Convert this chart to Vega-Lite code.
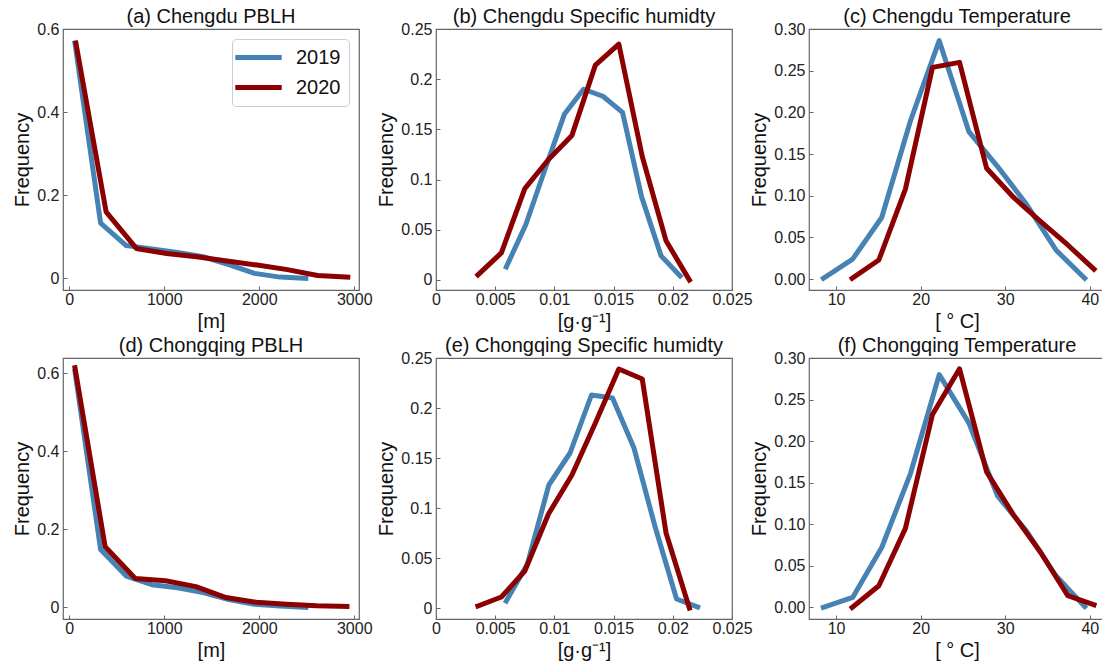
{
  "$schema": "https://vega.github.io/schema/vega-lite/v6.json",
  "background": "white",
  "padding": {"left": 12, "top": 6, "right": 0, "bottom": 0},
  "datasets": {
    "a": [
      {"year": "2019", "v": 60, "freq": 0.566}, {"year": "2019", "v": 330, "freq": 0.133}, {"year": "2019", "v": 600, "freq": 0.079}, {"year": "2019", "v": 870, "freq": 0.071}, {"year": "2019", "v": 1140, "freq": 0.062}, {"year": "2019", "v": 1410, "freq": 0.052}, {"year": "2019", "v": 1680, "freq": 0.033}, {"year": "2019", "v": 1950, "freq": 0.012}, {"year": "2019", "v": 2220, "freq": 0.003}, {"year": "2019", "v": 2490, "freq": 0.0},
      {"year": "2020", "v": 70, "freq": 0.566}, {"year": "2020", "v": 388, "freq": 0.16}, {"year": "2020", "v": 706, "freq": 0.072}, {"year": "2020", "v": 1024, "freq": 0.06}, {"year": "2020", "v": 1342, "freq": 0.052}, {"year": "2020", "v": 1660, "freq": 0.042}, {"year": "2020", "v": 1978, "freq": 0.032}, {"year": "2020", "v": 2296, "freq": 0.021}, {"year": "2020", "v": 2614, "freq": 0.007}, {"year": "2020", "v": 2932, "freq": 0.003}
    ],
    "b": [
      {"year": "2019", "v": 0.00594, "freq": 0.013}, {"year": "2019", "v": 0.00758, "freq": 0.055}, {"year": "2019", "v": 0.0092, "freq": 0.11}, {"year": "2019", "v": 0.01084, "freq": 0.165}, {"year": "2019", "v": 0.01246, "freq": 0.19}, {"year": "2019", "v": 0.0141, "freq": 0.183}, {"year": "2019", "v": 0.01575, "freq": 0.167}, {"year": "2019", "v": 0.01736, "freq": 0.083}, {"year": "2019", "v": 0.01901, "freq": 0.024}, {"year": "2019", "v": 0.02062, "freq": 0.004},
      {"year": "2020", "v": 0.00354, "freq": 0.005}, {"year": "2020", "v": 0.00552, "freq": 0.027}, {"year": "2020", "v": 0.0075, "freq": 0.091}, {"year": "2020", "v": 0.0095, "freq": 0.12}, {"year": "2020", "v": 0.01148, "freq": 0.144}, {"year": "2020", "v": 0.01346, "freq": 0.214}, {"year": "2020", "v": 0.01544, "freq": 0.235}, {"year": "2020", "v": 0.01742, "freq": 0.123}, {"year": "2020", "v": 0.01943, "freq": 0.039}, {"year": "2020", "v": 0.0214, "freq": 0.0}
    ],
    "c": [
      {"year": "2019", "v": 8.5, "freq": 0.001}, {"year": "2019", "v": 11.96, "freq": 0.024}, {"year": "2019", "v": 15.4, "freq": 0.074}, {"year": "2019", "v": 18.8, "freq": 0.19}, {"year": "2019", "v": 22.2, "freq": 0.286}, {"year": "2019", "v": 25.7, "freq": 0.177}, {"year": "2019", "v": 29.1, "freq": 0.135}, {"year": "2019", "v": 32.5, "freq": 0.09}, {"year": "2019", "v": 36.0, "freq": 0.035}, {"year": "2019", "v": 39.4, "freq": 0.001},
      {"year": "2020", "v": 11.9, "freq": 0.001}, {"year": "2020", "v": 15.06, "freq": 0.023}, {"year": "2020", "v": 18.2, "freq": 0.108}, {"year": "2020", "v": 21.4, "freq": 0.254}, {"year": "2020", "v": 24.6, "freq": 0.26}, {"year": "2020", "v": 27.8, "freq": 0.133}, {"year": "2020", "v": 31.0, "freq": 0.098}, {"year": "2020", "v": 34.2, "freq": 0.069}, {"year": "2020", "v": 37.4, "freq": 0.041}, {"year": "2020", "v": 40.5, "freq": 0.012}
    ],
    "d": [
      {"year": "2019", "v": 60, "freq": 0.605}, {"year": "2019", "v": 330, "freq": 0.148}, {"year": "2019", "v": 600, "freq": 0.08}, {"year": "2019", "v": 870, "freq": 0.058}, {"year": "2019", "v": 1140, "freq": 0.05}, {"year": "2019", "v": 1410, "freq": 0.038}, {"year": "2019", "v": 1680, "freq": 0.02}, {"year": "2019", "v": 1950, "freq": 0.008}, {"year": "2019", "v": 2220, "freq": 0.003}, {"year": "2019", "v": 2490, "freq": 0.0},
      {"year": "2020", "v": 60, "freq": 0.614}, {"year": "2020", "v": 378, "freq": 0.155}, {"year": "2020", "v": 695, "freq": 0.074}, {"year": "2020", "v": 1014, "freq": 0.068}, {"year": "2020", "v": 1333, "freq": 0.053}, {"year": "2020", "v": 1649, "freq": 0.025}, {"year": "2020", "v": 1968, "freq": 0.013}, {"year": "2020", "v": 2288, "freq": 0.008}, {"year": "2020", "v": 2604, "freq": 0.004}, {"year": "2020", "v": 2923, "freq": 0.002}
    ],
    "e": [
      {"year": "2019", "v": 0.00594, "freq": 0.007}, {"year": "2019", "v": 0.00772, "freq": 0.044}, {"year": "2019", "v": 0.00953, "freq": 0.123}, {"year": "2019", "v": 0.01132, "freq": 0.155}, {"year": "2019", "v": 0.01313, "freq": 0.213}, {"year": "2019", "v": 0.01491, "freq": 0.21}, {"year": "2019", "v": 0.01672, "freq": 0.16}, {"year": "2019", "v": 0.01851, "freq": 0.081}, {"year": "2019", "v": 0.02032, "freq": 0.009}, {"year": "2019", "v": 0.0221, "freq": 0.001},
      {"year": "2020", "v": 0.00354, "freq": 0.002}, {"year": "2020", "v": 0.00552, "freq": 0.011}, {"year": "2020", "v": 0.0075, "freq": 0.037}, {"year": "2020", "v": 0.0095, "freq": 0.094}, {"year": "2020", "v": 0.01148, "freq": 0.133}, {"year": "2020", "v": 0.01346, "freq": 0.185}, {"year": "2020", "v": 0.01544, "freq": 0.239}, {"year": "2020", "v": 0.01742, "freq": 0.229}, {"year": "2020", "v": 0.01943, "freq": 0.075}, {"year": "2020", "v": 0.0214, "freq": 0.0}
    ],
    "f": [
      {"year": "2019", "v": 8.5, "freq": 0.0}, {"year": "2019", "v": 11.96, "freq": 0.012}, {"year": "2019", "v": 15.4, "freq": 0.072}, {"year": "2019", "v": 18.8, "freq": 0.161}, {"year": "2019", "v": 22.2, "freq": 0.28}, {"year": "2019", "v": 25.7, "freq": 0.222}, {"year": "2019", "v": 29.1, "freq": 0.134}, {"year": "2019", "v": 32.5, "freq": 0.092}, {"year": "2019", "v": 36.0, "freq": 0.038}, {"year": "2019", "v": 39.4, "freq": 0.001},
      {"year": "2020", "v": 11.9, "freq": 0.0}, {"year": "2020", "v": 15.06, "freq": 0.026}, {"year": "2020", "v": 18.2, "freq": 0.095}, {"year": "2020", "v": 21.4, "freq": 0.232}, {"year": "2020", "v": 24.6, "freq": 0.287}, {"year": "2020", "v": 27.8, "freq": 0.163}, {"year": "2020", "v": 31.0, "freq": 0.111}, {"year": "2020", "v": 34.2, "freq": 0.066}, {"year": "2020", "v": 37.4, "freq": 0.014}, {"year": "2020", "v": 40.5, "freq": 0.003}
    ]
  },
  "columns": 3,
  "spacing": {"row": 68, "column": 77},
  "bounds": "flush",
  "resolve": {"scale": {"x": "independent", "y": "independent"}, "legend": {"color": "independent"}},
  "concat": [
    {
      "width": 296, "height": 261,
      "title": "(a) Chengdu PBLH",
      "data": {"name": "a"},
      "mark": {"type": "line", "strokeWidth": 5, "strokeJoin": "round", "strokeCap": "square"},
      "encoding": {
        "x": {"field": "v", "type": "quantitative", "scale": {"domain": [-66, 3050], "nice": false, "zero": false}, "axis": {"title": "[m]", "values": [0, 1000, 2000, 3000], "format": "d"}},
        "y": {"field": "freq", "type": "quantitative", "scale": {"domain": [-0.028, 0.6], "nice": false, "zero": false}, "axis": {"title": "Frequency", "values": [0, 0.2, 0.4, 0.6], "format": "~g"}},
        "color": {"field": "year", "type": "nominal", "scale": {"domain": ["2019", "2020"], "range": ["#4682B4", "#8B0000"]},
          "legend": {"orient": "top-right", "offset": 10, "title": null, "symbolType": "M-2.9,0H2.9", "symbolStrokeWidth": 5, "symbolSize": 256, "symbolOffset": 8, "labelFontSize": 20, "labelColor": "#111", "strokeColor": "#cccccc", "fillColor": "white", "cornerRadius": 4, "padding": 8, "rowPadding": 9, "labelOffset": 27}}
      }
    },
    {
      "width": 296, "height": 261,
      "title": "(b) Chengdu Specific humidty",
      "data": {"name": "b"},
      "mark": {"type": "line", "strokeWidth": 5, "strokeJoin": "round", "strokeCap": "square"},
      "encoding": {
        "x": {"field": "v", "type": "quantitative", "scale": {"domain": [0, 0.025], "nice": false, "zero": false}, "axis": {"title": "[g·g⁻¹]", "values": [0, 0.005, 0.01, 0.015, 0.02, 0.025], "format": "~g"}},
        "y": {"field": "freq", "type": "quantitative", "scale": {"domain": [-0.01, 0.25], "nice": false, "zero": false}, "axis": {"title": "Frequency", "values": [0, 0.05, 0.1, 0.15, 0.2, 0.25], "format": "~g"}},
        "color": {"field": "year", "type": "nominal", "scale": {"domain": ["2019", "2020"], "range": ["#4682B4", "#8B0000"]}, "legend": null}
      }
    },
    {
      "width": 296, "height": 261,
      "title": "(c) Chengdu Temperature",
      "data": {"name": "c"},
      "mark": {"type": "line", "strokeWidth": 5, "strokeJoin": "round", "strokeCap": "square"},
      "encoding": {
        "x": {"field": "v", "type": "quantitative", "scale": {"domain": [6.8, 41.8], "nice": false, "zero": false}, "axis": {"title": "[ ° C]", "values": [10, 20, 30, 40], "format": "d"}},
        "y": {"field": "freq", "type": "quantitative", "scale": {"domain": [-0.013, 0.3], "nice": false, "zero": false}, "axis": {"title": "Frequency", "values": [0, 0.05, 0.1, 0.15, 0.2, 0.25, 0.3], "format": ".2f"}},
        "color": {"field": "year", "type": "nominal", "scale": {"domain": ["2019", "2020"], "range": ["#4682B4", "#8B0000"]}, "legend": null}
      }
    },
    {
      "width": 296, "height": 261,
      "title": {"text": "(d) Chongqing PBLH", "offset": 2},
      "data": {"name": "d"},
      "mark": {"type": "line", "strokeWidth": 5, "strokeJoin": "round", "strokeCap": "square"},
      "encoding": {
        "x": {"field": "v", "type": "quantitative", "scale": {"domain": [-66, 3050], "nice": false, "zero": false}, "axis": {"title": "[m]", "values": [0, 1000, 2000, 3000], "format": "d"}},
        "y": {"field": "freq", "type": "quantitative", "scale": {"domain": [-0.03, 0.639], "nice": false, "zero": false}, "axis": {"title": "Frequency", "values": [0, 0.2, 0.4, 0.6], "format": "~g"}},
        "color": {"field": "year", "type": "nominal", "scale": {"domain": ["2019", "2020"], "range": ["#4682B4", "#8B0000"]}, "legend": null}
      }
    },
    {
      "width": 296, "height": 261,
      "title": "(e) Chongqing Specific humidty",
      "data": {"name": "e"},
      "mark": {"type": "line", "strokeWidth": 5, "strokeJoin": "round", "strokeCap": "square"},
      "encoding": {
        "x": {"field": "v", "type": "quantitative", "scale": {"domain": [0, 0.025], "nice": false, "zero": false}, "axis": {"title": "[g·g⁻¹]", "values": [0, 0.005, 0.01, 0.015, 0.02, 0.025], "format": "~g"}},
        "y": {"field": "freq", "type": "quantitative", "scale": {"domain": [-0.011, 0.25], "nice": false, "zero": false}, "axis": {"title": "Frequency", "values": [0, 0.05, 0.1, 0.15, 0.2, 0.25], "format": "~g"}},
        "color": {"field": "year", "type": "nominal", "scale": {"domain": ["2019", "2020"], "range": ["#4682B4", "#8B0000"]}, "legend": null}
      }
    },
    {
      "width": 296, "height": 261,
      "title": "(f) Chongqing Temperature",
      "data": {"name": "f"},
      "mark": {"type": "line", "strokeWidth": 5, "strokeJoin": "round", "strokeCap": "square"},
      "encoding": {
        "x": {"field": "v", "type": "quantitative", "scale": {"domain": [6.8, 41.8], "nice": false, "zero": false}, "axis": {"title": "[ ° C]", "values": [10, 20, 30, 40], "format": "d"}},
        "y": {"field": "freq", "type": "quantitative", "scale": {"domain": [-0.014, 0.3], "nice": false, "zero": false}, "axis": {"title": "Frequency", "values": [0, 0.05, 0.1, 0.15, 0.2, 0.25, 0.3], "format": ".2f"}},
        "color": {"field": "year", "type": "nominal", "scale": {"domain": ["2019", "2020"], "range": ["#4682B4", "#8B0000"]}, "legend": null}
      }
    }
  ],
  "config": {
    "font": "Liberation Sans",
    "view": {"stroke": "#666666", "strokeWidth": 1.2},
    "title": {"fontSize": 20, "fontWeight": "normal", "color": "#111111", "offset": -6},
    "axis": {"domain": false, "grid": false, "ticks": true, "tickSize": -4, "tickColor": "#666666", "labelFontSize": 16, "labelColor": "#222222", "labelFlush": false, "labelOverlap": false, "titleFontSize": 20, "titleFontWeight": "normal", "titleColor": "#111111"},
    "axisX": {"labelPadding": 5, "titlePadding": 4},
    "axisY": {"labelPadding": 8, "titlePadding": 4}
  }
}
